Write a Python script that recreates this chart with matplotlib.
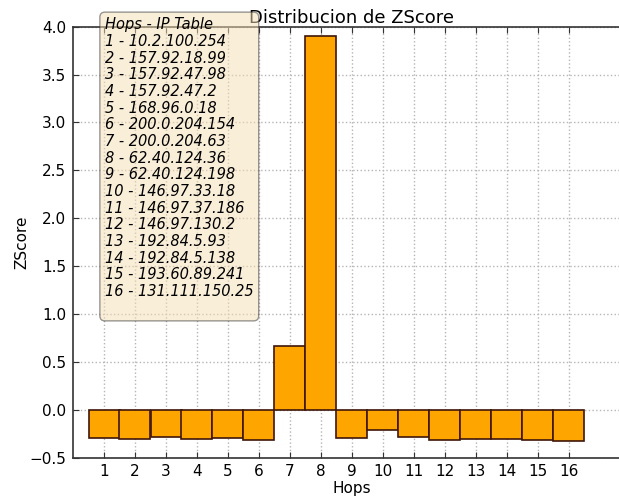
import matplotlib
matplotlib.use("Agg")
import matplotlib.pyplot as plt

hops = list(range(1, 17))
zscores = [-0.30, -0.306, -0.289, -0.31, -0.30, -0.313, 0.66, 3.90,
           -0.30, -0.209, -0.289, -0.313, -0.306, -0.306, -0.316, -0.33]
ips = ["10.2.100.254", "157.92.18.99", "157.92.47.98", "157.92.47.2",
       "168.96.0.18", "200.0.204.154", "200.0.204.63", "62.40.124.36",
       "62.40.124.198", "146.97.33.18", "146.97.37.186", "146.97.130.2",
       "192.84.5.93", "192.84.5.138", "193.60.89.241", "131.111.150.25"]
yticks = [-0.5, 0.0, 0.5, 1.0, 1.5, 2.0, 2.5, 3.0, 3.5, 4.0]

plt.rcParams['font.family'] = ['DejaVu Sans']
fig = plt.figure(figsize=(6.19, 4.99), dpi=100)
ax = fig.add_axes([73/619, 41.5/499, 558/619, 430.8/499])

ax.bar(hops, zscores, width=1.0, align='center', color='#FFA500',
       edgecolor='#3f1508', linewidth=1.2, zorder=2)

ax.set_xlim(0, 18)
ax.set_ylim(-0.5, 4.0)
ax.set_xticks(hops)
ax.set_xticklabels([str(h) for h in hops])
ax.set_yticks(yticks)
ax.set_yticklabels(["%.1f" % v if v >= 0 else "\u22120.5" for v in yticks])
ax.tick_params(axis='both', which='major', direction='in', length=4,
               top=True, right=True, labelsize=11, pad=5, color='#333333')
ax.grid(True, linestyle=':', color='#b5b5b5', linewidth=1.0, zorder=0)
ax.set_axisbelow(True)
for s in ['left', 'bottom', 'top']:
    ax.spines[s].set_linewidth(1.2)
    ax.spines[s].set_color('#333333')
ax.spines['right'].set_visible(False)

ax.set_title("Distribucion de ZScore", fontsize=13, pad=3)
ax.set_xlabel("Hops", fontsize=11, labelpad=1)
ax.set_ylabel("ZScore", fontsize=11, labelpad=0)

table = "Hops - IP Table\n" + "\n".join("%d - %s" % (h, ip) for h, ip in zip(hops, ips)) + "\n "
ax.text(0.0573, 1.022, table, transform=ax.transAxes, fontsize=10.5,
        style='italic', va='top', ha='left', linespacing=1.14,
        bbox=dict(boxstyle='round,pad=0.35', facecolor='wheat', alpha=0.5,
                  edgecolor='#333333'), zorder=5, clip_on=False)

fig.savefig("out.png", dpi=100)
